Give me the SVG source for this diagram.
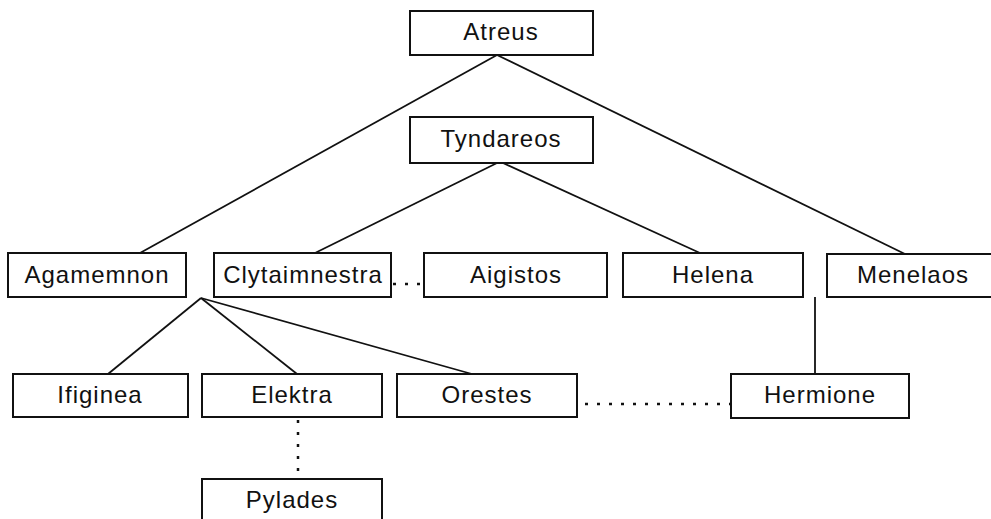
<svg xmlns="http://www.w3.org/2000/svg" width="991" height="519" viewBox="0 0 991 519">
<style>
.box rect{fill:#fff;stroke:#111;stroke-width:2}
.box text{font-family:"Liberation Sans",Arial,sans-serif;font-size:24px;letter-spacing:1px;fill:#111;text-anchor:middle}
.edge{stroke:#111;stroke-width:1.8;fill:none}
.dot{stroke:#111;stroke-width:2.5;fill:none;stroke-dasharray:3 9}
</style>
<rect width="991" height="519" fill="#fff"/>
<g id="connectors">
<line class="edge" x1="497" y1="55" x2="140" y2="253"/>
<line class="edge" x1="497" y1="55" x2="905" y2="254"/>
<line class="edge" x1="497" y1="163" x2="315" y2="253"/>
<line class="edge" x1="503" y1="163" x2="700" y2="253"/>
<line class="edge" x1="201" y1="298" x2="108" y2="374"/>
<line class="edge" x1="201" y1="298" x2="297" y2="374"/>
<line class="edge" x1="201" y1="298" x2="472" y2="374"/>
<line class="edge" x1="815" y1="297" x2="815" y2="374"/>
<line class="dot" x1="393" y1="284" x2="424" y2="284"/>
<line class="dot" x1="585" y1="404" x2="731" y2="404"/>
<line class="dot" x1="298" y1="420" x2="298" y2="479"/>
</g>
<g id="atreus" class="box"><rect x="410" y="11" width="183" height="44"/><text x="501" y="40">Atreus</text></g>
<g id="tyndareos" class="box"><rect x="410" y="117" width="183" height="46"/><text x="501" y="147">Tyndareos</text></g>
<g id="agamemnon" class="box"><rect x="8" y="253" width="178" height="44"/><text x="97" y="283">Agamemnon</text></g>
<g id="clytaimnestra" class="box"><rect x="214" y="253" width="177" height="44"/><text x="303" y="283">Clytaimnestra</text></g>
<g id="aigistos" class="box"><rect x="424" y="253" width="183" height="44"/><text x="516" y="283">Aigistos</text></g>
<g id="helena" class="box"><rect x="623" y="253" width="180" height="44"/><text x="713" y="283">Helena</text></g>
<g id="menelaos" class="box"><rect x="827" y="254" width="172" height="43"/><text x="913" y="283">Menelaos</text></g>
<g id="ifiginea" class="box"><rect x="13" y="374" width="175" height="43"/><text x="100" y="403">Ifiginea</text></g>
<g id="elektra" class="box"><rect x="202" y="374" width="180" height="43"/><text x="292" y="403">Elektra</text></g>
<g id="orestes" class="box"><rect x="397" y="374" width="180" height="43"/><text x="487" y="403">Orestes</text></g>
<g id="hermione" class="box"><rect x="731" y="374" width="178" height="44"/><text x="820" y="403">Hermione</text></g>
<g id="pylades" class="box"><rect x="202" y="479" width="180" height="44"/><text x="292" y="508">Pylades</text></g>
</svg>
